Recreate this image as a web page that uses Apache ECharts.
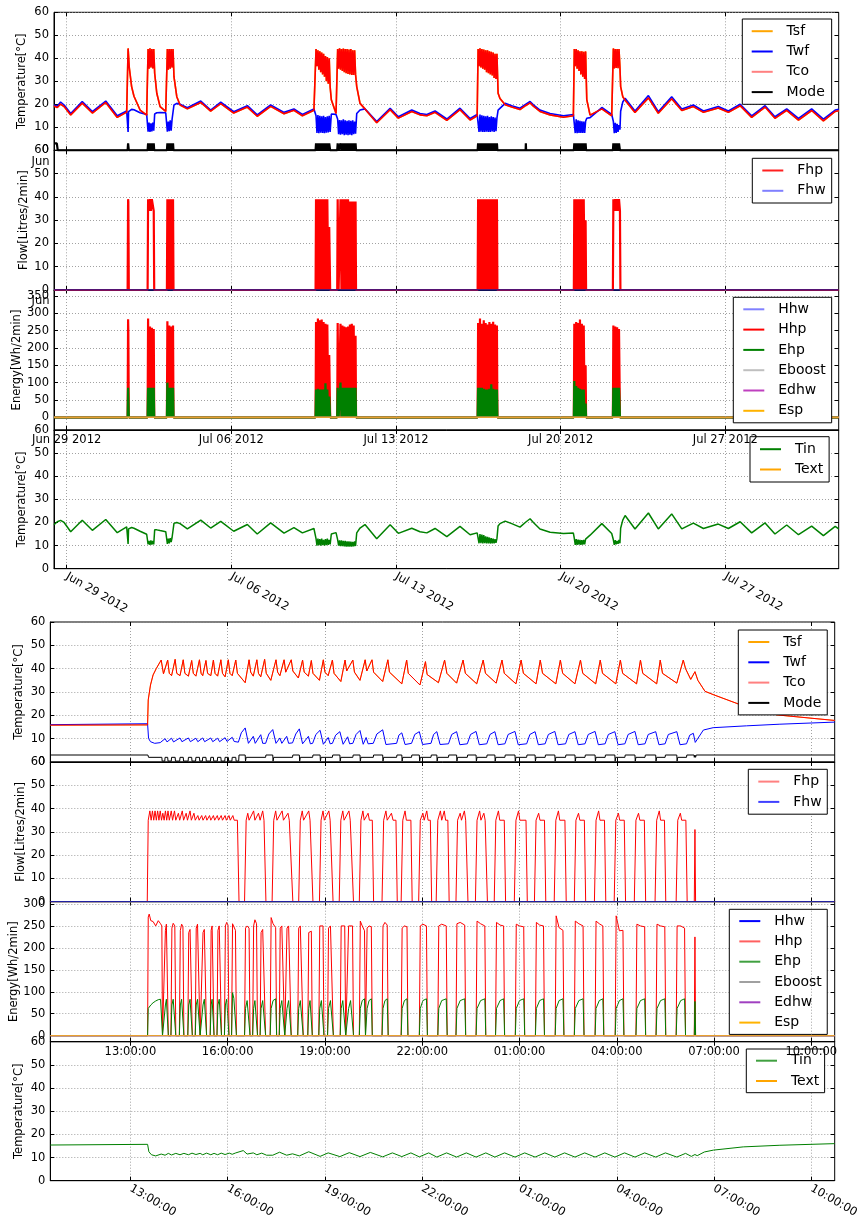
<!DOCTYPE html>
<html><head><meta charset="utf-8">
<script src="https://cdn.jsdelivr.net/npm/echarts/dist/echarts.min.js"></script>
<style>html,body{margin:0;padding:0;background:#fff}#c{width:860px;height:1223px}</style>
</head><body><div id="c"></div><script>
// ---------------- tick labels ----------------
const topTickDays = [0, 7, 14, 21, 28];
const topTickLabels = ['Jun 29 2012', 'Jul 06 2012', 'Jul 13 2012', 'Jul 20 2012', 'Jul 27 2012'];
const botTickHours = [13, 16, 19, 22, 25, 28, 31, 34];
const botTickLabels = ['13:00:00', '16:00:00', '19:00:00', '22:00:00', '01:00:00', '04:00:00', '07:00:00', '10:00:00'];
const tempTicks = [0, 10, 20, 30, 40, 50, 60];
const energyTicksTop = [0, 50, 100, 150, 200, 250, 300, 350];
const energyTicksBot = [0, 50, 100, 150, 200, 250, 300];

// ---------------- top figure (days since Jun 29 2012 00:00) ----------------
const topDays = [
-0.54,-0.40,-0.26,-0.11,0.17,0.66,1.09,1.66,2.15,2.55,
2.61,2.63,2.66,2.76,2.86,3.12,3.40,
3.46,3.50,3.54,3.58,3.62,3.66,3.70,
3.74,3.83,3.97,4.21,
4.28,4.32,4.36,4.40,4.44,4.48,4.52,
4.56,4.68,4.82,5.13,5.70,6.12,6.55,7.10,7.68,8.10,8.67,9.24,9.66,10.02,10.51,
10.60,10.64,10.68,10.72,10.76,10.80,10.84,10.88,10.92,10.96,11.00,11.04,11.08,11.12,11.16,11.20,
11.25,11.45,
11.52,11.56,11.60,11.64,11.68,11.72,11.76,11.80,11.84,11.88,11.92,11.96,12.00,12.04,12.08,12.12,12.16,12.20,12.24,12.28,
12.33,12.47,12.68,13.18,13.75,14.10,14.67,15.02,15.31,15.66,16.16,16.72,17.15,17.45,
17.49,17.53,17.57,17.61,17.65,17.69,17.73,17.77,17.81,17.85,17.89,17.93,17.97,18.01,18.05,18.09,18.13,18.17,18.21,18.25,18.29,
18.34,18.42,18.64,18.92,19.27,19.52,19.70,19.84,20.12,20.55,21.12,21.54,
21.58,21.62,21.66,21.70,21.74,21.78,21.82,21.86,21.90,21.94,21.98,22.02,22.06,
22.11,22.25,22.75,23.17,
23.24,23.28,23.32,23.36,23.40,23.44,23.48,23.52,
23.55,23.64,23.74,24.16,24.73,25.15,25.72,26.15,26.64,27.07,27.70,28.13,28.63,29.12,29.69,30.11,30.61,31.11,31.67,32.17,32.67,32.82
];
const topTwf = [
19.7,19.2,21.0,19.7,16.0,21.2,16.8,21.4,15.0,17.1,
8.0,16.8,17.3,17.8,17.6,16.3,15.6,
8.1,12.0,8.0,11.7,8.2,12.0,8.5,
15.8,16.3,16.4,16.3,
8.1,12.5,8.3,13.0,8.5,13.5,14.0,
19.7,20.4,20.0,18.5,21.4,17.5,20.9,16.8,19.4,15.4,19.7,16.5,18.0,15.6,18.0,
15.0,7.5,15.3,7.4,15.0,7.6,14.8,7.5,15.0,7.4,14.5,7.6,14.8,7.8,15.0,8.0,
15.8,15.6,
13.5,7.0,13.2,6.8,13.0,7.0,13.5,6.6,13.0,6.8,12.8,6.6,13.0,6.8,12.8,6.6,13.0,7.0,12.5,7.2,
16.0,17.5,18.0,12.5,18.3,14.6,17.5,16.0,15.6,17.1,13.6,18.3,13.8,15.6,
16.0,8.0,15.5,8.1,15.2,8.0,15.0,8.0,14.8,8.1,15.0,8.0,14.5,8.0,14.8,8.2,14.5,8.0,14.2,8.3,14.0,
17.5,18.3,20.4,19.4,18.3,20.1,21.2,19.8,17.5,16.0,15.0,15.6,
15.0,7.5,13.5,7.4,13.0,7.5,12.8,7.6,12.6,7.5,12.5,7.6,12.6,
13.9,14.2,18.6,15.6,
12.5,7.4,12.0,7.6,11.5,8.0,11.0,9.0,
17.0,21.0,22.6,17.1,23.8,16.8,23.3,18.0,19.7,17.1,19.0,17.1,20.0,15.0,19.4,14.6,18.0,13.9,18.0,13.6,17.5,17.8
];
const topTco = [
19.3,18.6,20.1,19.0,15.4,20.5,16.2,20.8,14.3,16.6,
44.3,44.0,36.0,27.7,23.5,17.5,15.3,
44.0,35.5,44.3,36.0,44.0,35.6,44.0,
33.5,24.8,19.0,16.9,
44.0,35.0,44.0,35.5,44.0,36.0,44.0,
32.0,23.3,19.7,18.0,20.8,17.0,20.3,16.2,18.8,14.8,19.1,15.9,17.4,15.0,17.4,
44.0,36.6,43.5,35.0,43.0,34.0,42.5,33.0,42.0,32.0,41.0,30.0,40.5,29.0,40.0,27.5,
22.0,16.0,
44.0,35.5,44.3,35.0,44.0,34.5,44.2,34.0,44.0,33.5,44.0,33.2,43.8,33.0,44.0,32.8,43.5,32.7,43.5,33.0,
27.7,20.4,18.0,12.0,17.7,14.0,16.9,15.4,15.0,16.5,13.0,17.7,13.2,15.0,
44.0,36.6,44.3,36.0,44.0,35.5,43.8,35.0,43.5,34.0,43.5,33.5,43.0,33.0,42.8,32.5,42.5,31.5,42.0,31.0,42.0,
24.8,22.5,19.8,18.8,17.7,19.5,20.6,19.2,16.9,15.4,14.4,15.0,
44.0,36.6,44.0,35.5,43.5,34.5,43.0,33.0,43.0,32.0,42.8,31.0,43.0,
22.0,15.3,18.0,15.0,
44.3,35.6,44.0,35.8,44.0,35.7,44.0,36.0,
27.7,23.3,21.8,16.4,22.8,16.1,22.4,17.3,19.0,16.5,18.4,16.5,19.4,14.3,18.8,13.9,17.4,13.1,17.3,12.8,16.9,17.2
];
const topTin = [
19.0,20.3,20.9,20.0,16.0,21.0,16.6,21.3,15.6,18.1,
10.7,17.2,17.7,17.8,17.5,16.2,14.9,
10.5,12.0,10.3,12.2,10.4,12.0,10.5,
16.8,16.8,16.5,16.0,
10.7,13.0,11.0,13.2,11.5,13.5,13.0,
19.6,20.0,19.5,17.2,21.0,17.6,20.5,16.2,19.1,15.0,19.8,15.4,17.8,15.5,17.4,
13.0,10.0,13.0,10.2,12.8,10.0,13.0,10.2,12.5,10.0,12.8,10.2,13.0,10.3,12.5,10.5,
15.0,15.6,
12.5,10.0,12.3,9.8,12.2,9.8,12.0,9.7,12.0,9.6,11.8,9.6,11.8,9.6,11.7,9.6,11.6,9.7,11.8,9.8,
15.5,17.6,19.1,13.0,19.0,15.3,17.5,16.0,15.5,17.4,13.9,18.3,14.7,15.5,
15.5,11.0,15.0,11.0,14.8,10.9,14.5,11.0,14.0,10.9,13.8,11.0,13.5,10.9,13.2,11.0,13.0,11.0,12.8,11.2,13.0,
18.5,19.5,20.6,19.5,18.0,20.2,21.6,20.0,17.2,15.8,15.2,15.4,
13.1,10.3,12.8,10.3,12.6,10.4,12.5,10.3,12.4,10.4,12.5,10.5,12.8,
13.5,14.5,19.5,15.2,
12.5,10.3,12.3,10.5,12.0,10.8,12.5,11.0,
17.5,21.0,23.0,17.2,24.1,17.2,23.7,17.2,19.7,17.4,19.3,17.4,20.3,15.5,19.8,15.0,18.9,14.7,18.4,14.3,18.3,17.2
];
// heating bursts (mode, flow, energy)
const pulseDays = [
-0.54,-0.42,-0.38,
2.59,2.61,2.62,2.64,
3.44, 3.46,3.50,3.54,3.58,3.62,3.66,3.70, 3.72,
4.26, 4.28,4.32,4.36,4.40,4.44,4.48,4.52, 4.54,
10.58, 10.60,10.64,10.68,10.72,10.76,10.80,10.84,10.88,10.92,10.96,11.00,11.04,11.08,11.12,11.16,11.20, 11.22,
11.50, 11.52,11.56,11.60,11.64,11.68,11.72,11.76,11.80,11.84,11.88,11.92,11.96,12.00,12.04,12.08,12.12,12.16,12.20,12.24,12.28, 12.30,
17.47, 17.49,17.53,17.57,17.61,17.65,17.69,17.73,17.77,17.81,17.85,17.89,17.93,17.97,18.01,18.05,18.09,18.13,18.17,18.21,18.25,18.29, 18.31,
19.51,19.52,19.53,
21.56, 21.58,21.62,21.66,21.70,21.74,21.78,21.82,21.86,21.90,21.94,21.98,22.02,22.06, 22.08,
23.22, 23.24,23.28,23.32,23.36,23.40,23.44,23.48,23.52, 23.54,
32.82
];
const topMode = [
3,3,0,
0,3,3,0,
0, 3,0,3,0,3,0,3, 0,
0, 3,0,3,0,3,0,3, 0,
0, 3,0,3,0,3,0,3,0,3,0,3,0,3,0,3,0, 0,
0, 3,0,0,3,0,3,0,3,0,3,0,3,0,3,0,3,0,3,0,3, 0,
0, 3,0,3,0,3,0,3,0,3,0,3,0,3,0,3,0,3,0,3,0,3, 0,
0,3,0,
0, 3,0,3,0,3,0,3,0,3,0,3,0,3, 0,
0, 3,0,3,0,3,0,3,0, 0,
0
];
const topFhp = [
0,0,0,
0,39,38,0,
0, 39,34,39,34,39,39,34, 0,
0, 39,0,39,0,39,0,39, 0,
0, 39,0,39,0,39,0,39,0,39,0,39,0,39,0,27,0, 0,
0, 39,0,0,39,0,39,0,39,0,39,0,39,0,38,0,38,0,38,0,38, 0,
0, 39,0,39,0,39,0,39,0,39,0,39,0,39,0,39,0,39,0,39,0,39, 0,
0,0,0,
0, 39,0,39,0,39,0,39,0,39,0,39,0,30, 0,
0, 39,34,39,34,39,34,39,34, 0,
0
];
const topHhp = [
0,0,0,
0,283,250,0,
0, 285,0,262,0,258,0,255, 0,
0, 277,0,265,0,262,0,265, 0,
0, 275,0,285,0,280,0,282,0,275,0,270,0,268,0,180,0, 0,
0, 272,0,0,270,0,265,0,262,0,260,0,262,0,268,0,270,0,265,0,235, 0,
0, 272,0,285,0,270,0,280,0,272,0,268,0,275,0,270,0,276,0,268,0,265, 0,
0,0,0,
0, 270,0,275,0,272,0,282,0,270,0,265,0,150, 0,
0, 265,0,262,0,260,0,255,0, 0,
0
];
const topEhp = [
0,0,0,
0,85,85,0,
0, 85,0,85,0,85,0,85, 0,
0, 100,0,85,0,85,0,85, 0,
0, 80,0,82,0,80,0,80,0,80,0,98,0,80,0,60,0, 0,
0, 85,0,0,100,0,85,0,85,0,85,0,85,0,85,0,85,0,85,0,85, 0,
0, 85,0,85,0,85,0,82,0,80,0,80,0,82,0,95,0,82,0,80,0,80, 0,
0,0,0,
0, 105,0,90,0,85,0,82,0,80,0,80,0,40, 0,
0, 85,0,85,0,85,0,85,0, 0,
0
];
const topZero = [[-0.54, 0], [32.82, 0]];

// ---------------- bottom figure (hours from 00:00 of first day) ----------------
const botPulseH = [
10.53,
13.53,13.55,13.58,13.63,13.70,13.78,13.86,13.93,13.97,13.99,
14.05,14.08,14.11,14.14,14.17,
14.25,14.28,14.32,14.37,14.40,
14.51,14.54,14.58,14.62,14.65,
14.77,14.80,14.84,14.88,14.91,
15.00,15.03,15.07,15.12,15.15,
15.21,15.24,15.28,15.32,15.35,
15.46,15.49,15.52,15.55,15.58,
15.67,15.70,15.74,15.78,15.81,
15.90,15.93,15.97,16.01,16.04,
16.12,16.15,16.19,16.24,16.27,
16.52,16.55,16.60,16.66,16.69,
16.77,16.80,16.84,16.89,16.92,
17.00,17.03,17.08,17.14,17.17,
17.31,17.34,17.40,17.48,17.51,
17.59,17.62,17.67,17.73,17.76,
17.80,17.83,17.88,17.93,17.96,
18.16,18.19,18.24,18.30,18.33,
18.47,18.50,18.54,18.58,18.61,
18.81,18.84,18.89,18.94,18.97,
19.08,19.11,19.17,19.23,19.26,
19.47,19.50,19.55,19.61,19.64,
19.70,19.73,19.79,19.85,19.88,
20.06,20.09,20.15,20.22,20.25,
20.27,20.30,20.36,20.43,20.46,
20.76,20.79,20.85,20.92,20.95,
21.35,21.38,21.45,21.53,21.56,
21.91,21.94,22.02,22.13,22.16,
22.48,22.51,22.60,22.74,22.77,
23.04,23.07,23.17,23.31,23.34,
23.66,23.69,23.80,23.93,23.96,
24.26,24.29,24.40,24.51,24.54,
24.87,24.90,25.00,25.13,25.16,
25.49,25.52,25.62,25.74,25.77,
26.10,26.13,26.22,26.34,26.37,
26.69,26.72,26.83,26.96,26.99,
27.33,27.36,27.46,27.57,27.60,
27.95,27.98,28.08,28.19,28.22,
28.59,28.62,28.73,28.86,28.89,
29.21,29.24,29.35,29.48,29.51,
29.83,29.86,29.97,30.09,30.12,
30.39,30.41,30.43,
34.72
];
const botHhp = [
0,
0,270,277,262,260,250,262,255,250,0,
0,240,254,250,0,
0,245,256,250,0,
0,240,254,248,0,
0,235,242,240,0,
0,245,254,250,0,
0,235,242,240,0,
0,240,250,248,0,
0,240,250,248,0,
0,250,258,252,0,
0,255,254,240,0,
0,245,250,245,0,
0,250,264,255,0,
0,235,242,240,0,
0,269,255,246,0,
0,245,250,250,0,
0,245,250,250,0,
0,245,250,250,0,
0,235,239,238,0,
0,250,254,250,0,
0,245,250,248,0,
0,250,254,250,0,
0,250,254,250,0,
0,261,250,239,0,
0,245,250,248,0,
0,250,258,252,0,
0,245,250,248,0,
0,250,254,250,0,
0,250,254,250,0,
0,255,258,252,0,
0,261,255,250,0,
0,258,252,250,0,
0,254,250,248,0,
0,258,252,250,0,
0,273,246,240,0,
0,261,255,250,0,
0,261,255,250,0,
0,273,239,240,0,
0,254,250,248,0,
0,254,250,248,0,
0,250,250,245,0,
0,225,0,
0
];
const botEhp = [
0,
0,62,66,70,75,79,82,83,84,0,
0,70,83,84,0,
0,70,83,84,0,
0,70,83,84,0,
0,70,83,84,0,
0,70,83,84,0,
0,70,83,84,0,
0,70,83,84,0,
0,70,83,84,0,
0,70,83,84,0,
0,98,85,84,0,
0,62,80,84,0,
0,62,80,84,0,
0,62,80,84,0,
0,62,80,84,0,
0,62,80,84,0,
0,62,80,84,0,
0,62,80,84,0,
0,62,80,84,0,
0,62,80,84,0,
0,62,80,84,0,
0,62,80,84,0,
0,62,80,84,0,
0,62,80,84,0,
0,62,80,84,0,
0,62,80,84,0,
0,62,80,84,0,
0,62,80,84,0,
0,62,80,84,0,
0,62,80,84,0,
0,62,80,84,0,
0,62,80,84,0,
0,62,80,84,0,
0,62,80,84,0,
0,62,80,84,0,
0,62,80,84,0,
0,62,80,84,0,
0,62,80,84,0,
0,62,80,84,0,
0,62,80,84,0,
0,62,80,84,0,
0,78,0,
0
];
const botFhp = [
[10.53,0],[13.52,0],[13.55,35],[13.60,39],[13.64,35],[13.68,39],[13.72,35],[13.76,39],[13.80,35],[13.84,39],[13.88,35],[13.92,39],[13.96,35],[14.00,38],[14.04,35],[14.08,39],[14.12,35],[14.16,39],[14.20,35],[14.26,39],[14.30,35],[14.36,39],[14.40,35],[14.48,38],[14.52,35],[14.60,39],[14.64,35],[14.72,38],[14.76,35],[14.84,39],[14.88,35],[14.96,38],[15.00,35],[15.08,37],[15.12,35],[15.20,37],[15.24,35],[15.32,37],[15.36,35],[15.44,37],[15.48,35],[15.56,37],[15.60,35],[15.68,37],[15.72,35],[15.80,37],[15.84,35],[15.92,37],[15.96,35],[16.04,37],[16.08,35],[16.16,37],[16.20,35],[16.30,35],[16.35,0],
[16.52,0],[16.57,35],[16.62,38],[16.66,35],[16.80,39],[16.84,35],[16.95,38],[17.00,35],[17.08,39],[17.12,35],[17.18,0],
[17.37,0],[17.42,35],[17.48,39],[17.52,35],[17.68,39],[17.72,35],[17.86,38],[17.90,35],[17.96,35],[18.01,0],
[18.19,0],[18.24,35],[18.30,39],[18.34,35],[18.50,39],[18.54,35],[18.59,35],[18.63,0],
[18.83,0],[18.88,35],[18.94,39],[18.98,35],[19.12,39],[19.16,35],[19.21,35],[19.25,0],
[19.44,0],[19.49,35],[19.55,39],[19.59,35],[19.74,39],[19.78,35],[19.84,35],[19.88,0],
[20.06,0],[20.11,35],[20.17,39],[20.21,35],[20.33,38],[20.37,35],[20.46,35],[20.50,0],
[20.76,0],[20.81,35],[20.88,39],[20.92,35],[21.05,38],[21.10,35],[21.19,35],[21.23,0],
[21.35,0],[21.40,35],[21.47,39],[21.51,35],[21.65,35],[21.69,0],
[21.89,0],[21.94,35],[22.02,38],[22.06,35],[22.14,39],[22.18,35],[22.25,35],[22.29,0],
[22.43,0],[22.48,35],[22.56,39],[22.60,35],[22.68,39],[22.72,35],[22.79,35],[22.83,0],
[23.04,0],[23.09,35],[23.17,38],[23.21,35],[23.30,39],[23.34,35],[23.37,35],[23.41,0],
[23.64,0],[23.69,35],[23.77,39],[23.81,35],[23.90,38],[23.94,35],[23.97,35],[24.01,0],
[24.22,0],[24.27,35],[24.35,39],[24.39,35],[24.53,35],[24.57,0],
[24.84,0],[24.89,35],[24.97,39],[25.01,35],[25.20,35],[25.24,0],
[25.46,0],[25.51,35],[25.59,38],[25.63,35],[25.77,35],[25.81,0],
[26.07,0],[26.12,35],[26.20,39],[26.24,35],[26.40,35],[26.44,0],
[26.69,0],[26.74,35],[26.82,38],[26.86,35],[27.00,35],[27.04,0],
[27.31,0],[27.36,35],[27.44,39],[27.48,35],[27.62,35],[27.66,0],
[27.92,0],[27.97,35],[28.05,38],[28.09,35],[28.23,35],[28.27,0],
[28.54,0],[28.59,35],[28.67,38],[28.71,35],[28.85,35],[28.89,0],
[29.18,0],[29.23,35],[29.31,39],[29.35,35],[29.47,35],[29.51,0],
[29.83,0],[29.88,35],[29.96,38],[30.00,35],[30.13,35],[30.17,0],
[30.39,0],[30.41,31],[30.43,0],[34.72,0]
];
const botMode = [
[10.53,3],[13.54,3],[13.56,2],
[13.97,2],[13.98,0.4],[14.06,0.4],[14.07,2],
[14.15,2],[14.16,0.4],[14.26,0.4],[14.27,2],
[14.38,2],[14.39,0.4],[14.52,0.4],[14.53,2],
[14.63,2],[14.64,0.4],[14.78,0.4],[14.79,2],
[14.89,2],[14.90,0.4],[15.01,0.4],[15.02,2],
[15.13,2],[15.14,0.4],[15.22,0.4],[15.23,2],
[15.33,2],[15.34,0.4],[15.47,0.4],[15.48,2],
[15.56,2],[15.57,0.4],[15.68,0.4],[15.69,2],
[15.79,2],[15.80,0.4],[15.91,0.4],[15.92,2],
[16.02,2],[16.03,0.4],[16.13,0.4],[16.14,2],
[16.25,2],[16.26,0.4],[16.34,0.4],[16.35,3],
[16.54,3],[16.55,0.4],[16.57,2],[17.17,2],[17.18,3],
[17.39,3],[17.40,0.4],[17.42,2],[18.00,2],[18.01,3],
[18.21,3],[18.22,0.4],[18.24,2],[18.62,2],[18.63,3],
[18.85,3],[18.86,0.4],[18.88,2],[19.23,2],[19.24,3],
[19.46,3],[19.47,0.4],[19.49,2],[19.86,2],[19.87,3],
[20.08,3],[20.09,0.4],[20.11,2],[20.49,2],[20.50,3],
[20.78,3],[20.79,0.4],[20.81,2],[21.21,2],[21.22,3],
[21.37,3],[21.38,0.4],[21.40,2],[21.67,2],[21.68,3],
[21.91,3],[21.92,0.4],[21.94,2],[22.27,2],[22.28,3],
[22.45,3],[22.46,0.4],[22.48,2],[22.81,2],[22.82,3],
[23.06,3],[23.07,0.4],[23.09,2],[23.39,2],[23.40,3],
[23.66,3],[23.67,0.4],[23.69,2],[23.99,2],[24.00,3],
[24.24,3],[24.25,0.4],[24.27,2],[24.55,2],[24.56,3],
[24.86,3],[24.87,0.4],[24.89,2],[25.22,2],[25.23,3],
[25.48,3],[25.49,0.4],[25.51,2],[25.79,2],[25.80,3],
[26.09,3],[26.10,0.4],[26.12,2],[26.42,2],[26.43,3],
[26.71,3],[26.72,0.4],[26.74,2],[27.02,2],[27.03,3],
[27.33,3],[27.34,0.4],[27.36,2],[27.64,2],[27.65,3],
[27.94,3],[27.95,0.4],[27.97,2],[28.25,2],[28.26,3],
[28.56,3],[28.57,0.4],[28.59,2],[28.87,2],[28.88,3],
[29.20,3],[29.21,0.4],[29.23,2],[29.49,2],[29.50,3],
[29.85,3],[29.86,0.4],[29.88,2],[30.15,2],[30.16,3],
[30.38,3],[30.39,2],[30.41,3],[30.43,2],[30.45,3],[34.72,3]
];
const botTwf = [
[10.53,16.0],[13.53,16.4],[13.56,10.1],[13.62,8.7],[13.75,8.0],[13.92,8.3],
[14.07,10.0],[14.13,8.6],[14.27,10.2],[14.33,8.6],[14.53,10.3],[14.59,8.7],[14.79,10.3],[14.85,8.7],[15.02,10.2],[15.08,8.7],[15.23,10.3],[15.29,8.7],[15.48,10.3],[15.54,8.7],[15.69,10.2],[15.75,8.7],[15.92,10.4],[15.98,8.8],[16.14,10.6],[16.20,8.8],[16.33,8.5],
[16.42,12.5],[16.54,14.6],[16.64,8.0],[16.79,11.0],[16.85,8.0],[17.02,11.7],[17.08,8.0],[17.17,8.0],
[17.27,12.0],[17.39,13.9],[17.49,8.0],[17.61,10.3],[17.67,8.0],[17.82,11.0],[17.88,8.0],[18.00,8.2],
[18.10,12.0],[18.21,14.2],[18.31,7.8],[18.49,11.0],[18.55,7.8],[18.62,8.0],
[18.72,11.8],[18.85,13.6],[18.95,7.6],[19.10,10.5],[19.16,7.8],[19.23,8.0],
[19.33,11.5],[19.46,13.0],[19.56,7.6],[19.70,10.8],[19.76,7.8],[19.86,8.0],
[19.96,11.8],[20.08,13.5],[20.18,7.6],[20.27,10.5],[20.33,7.8],[20.49,8.0],
[20.60,12.0],[20.78,13.8],[20.88,7.5],[21.21,8.0],
[21.28,11.5],[21.37,12.5],[21.47,7.5],[21.67,8.0],
[21.77,11.8],[21.91,13.0],[22.01,7.5],[22.27,8.0],
[22.35,11.8],[22.45,13.0],[22.55,7.5],[22.81,7.8],
[22.91,11.8],[23.06,13.0],[23.16,7.4],[23.39,7.8],
[23.49,11.8],[23.66,13.1],[23.76,7.4],[23.99,7.8],
[24.09,11.8],[24.24,13.0],[24.34,7.4],[24.55,7.8],
[24.65,11.8],[24.86,13.1],[24.96,7.4],[25.22,7.8],
[25.32,11.8],[25.48,13.0],[25.58,7.4],[25.79,7.8],
[25.89,11.8],[26.09,13.1],[26.19,7.4],[26.42,7.8],
[26.52,11.8],[26.71,13.0],[26.81,7.4],[27.02,7.8],
[27.12,11.8],[27.33,13.1],[27.43,7.4],[27.64,7.8],
[27.74,11.8],[27.94,13.0],[28.04,7.4],[28.25,7.8],
[28.35,11.8],[28.56,13.1],[28.66,7.4],[28.87,7.8],
[28.97,11.8],[29.20,13.0],[29.30,7.4],[29.49,7.8],
[29.59,11.8],[29.85,13.0],[29.95,7.4],[30.15,7.8],
[30.25,11.5],[30.36,12.3],[30.42,8.4],[30.46,8.6],[30.67,13.7],[30.97,14.7],[32.00,15.5],[33.03,16.2],[34.72,17.1]
];
const botTco = [
[10.53,15.8],[13.53,15.9],[13.55,26.6],[13.62,33.0],[13.70,37.3],[13.80,40.1],[13.95,43.7],[14.02,37.8],
[14.07,37.2],[14.15,43.7],[14.20,38.0],
[14.27,37.0],[14.38,44.0],[14.43,38.0],
[14.53,37.0],[14.63,43.8],[14.68,38.0],
[14.79,36.8],[14.89,43.5],[14.94,38.0],
[15.02,36.8],[15.13,43.8],[15.18,38.0],
[15.23,37.0],[15.33,43.5],[15.38,38.0],
[15.48,37.0],[15.56,43.7],[15.61,38.0],
[15.69,36.8],[15.79,43.8],[15.84,38.0],
[15.92,36.5],[16.02,43.8],[16.07,38.0],
[16.14,37.0],[16.25,43.7],[16.30,38.0],
[16.54,34.0],[16.66,43.8],[16.71,38.5],
[16.79,36.8],[16.90,43.8],[16.95,38.0],
[17.02,36.5],[17.14,44.0],[17.19,38.0],
[17.33,35.0],[17.49,43.8],[17.54,38.5],
[17.61,37.0],[17.74,43.8],[17.79,38.5],
[17.82,38.0],[17.96,43.8],[18.01,39.0],
[18.18,36.0],[18.31,43.7],[18.36,38.5],
[18.49,36.8],[18.58,43.5],[18.63,38.0],
[18.83,35.0],[18.95,43.8],[19.00,38.5],
[19.10,37.0],[19.23,43.7],[19.28,38.0],
[19.49,34.5],[19.62,43.7],[19.67,39.0],
[19.72,38.5],[19.86,43.7],[19.91,38.5],
[20.08,35.0],[20.24,43.8],[20.29,39.0],
[20.30,38.8],[20.45,43.8],[20.50,38.5],
[20.78,34.5],[20.94,43.8],[20.99,38.5],
[21.37,33.5],[21.52,43.7],[21.57,38.0],
[21.93,33.0],[22.10,43.0],[22.15,37.5],
[22.50,34.0],[22.69,43.7],[22.76,38.0],
[23.06,33.8],[23.26,43.7],[23.33,38.0],
[23.68,33.5],[23.88,43.7],[23.95,38.0],
[24.28,33.8],[24.46,43.7],[24.53,38.0],
[24.89,33.5],[25.05,43.7],[25.12,38.0],
[25.51,33.5],[25.64,43.7],[25.71,38.0],
[26.12,33.5],[26.26,43.7],[26.33,38.0],
[26.71,33.5],[26.88,43.7],[26.95,38.0],
[27.35,33.5],[27.49,43.7],[27.56,38.0],
[27.97,33.5],[28.11,43.7],[28.18,38.0],
[28.61,33.5],[28.73,43.7],[28.80,38.0],
[29.23,33.5],[29.34,43.7],[29.41,38.0],
[29.85,33.8],[30.05,43.7],[30.12,40.0],
[30.28,35.4],[30.41,38.7],[30.50,35.0],[30.72,30.3],[30.97,28.9],[31.80,24.6],[32.93,20.2],[34.72,17.8]
];
const botTin = [
[10.53,15.4],[13.53,15.7],[13.57,12.5],[13.65,11.2],[13.78,10.7],[13.95,11.5],[14.07,11.0],[14.17,11.8],[14.27,11.1],[14.40,11.8],[14.53,11.2],[14.65,11.8],[14.79,11.2],[14.90,11.9],[15.02,11.3],[15.15,11.8],[15.23,11.2],[15.35,11.9],[15.48,11.2],[15.58,11.8],[15.69,11.2],[15.80,11.9],[15.92,11.3],[16.05,11.9],[16.14,11.4],[16.25,12.0],
[16.48,13.0],[16.60,11.5],[16.79,12.0],[16.90,11.2],[17.05,11.9],[17.20,11.0],[17.39,11.0],[17.60,12.3],[17.82,11.0],[18.00,11.6],[18.21,10.7],[18.50,12.5],[18.85,10.5],[19.10,12.0],[19.46,10.4],[19.75,12.1],[20.08,10.4],[20.40,12.2],[20.78,10.3],[21.08,12.0],[21.37,10.4],[21.65,12.0],[21.91,10.3],[22.20,12.0],
[22.45,10.2],[22.75,12.0],[23.06,10.2],[23.36,12.0],[23.66,10.2],[23.96,12.0],[24.24,10.2],[24.54,12.0],[24.86,10.2],[25.16,12.0],[25.48,10.2],[25.78,12.0],[26.09,10.2],[26.39,12.0],[26.71,10.2],[27.01,12.0],[27.33,10.2],[27.63,12.0],[27.94,10.2],[28.24,12.0],[28.56,10.2],[28.86,12.0],[29.20,10.2],[29.50,12.0],[29.85,10.2],[30.12,11.8],
[30.30,10.5],[30.41,11.3],[30.48,10.8],[30.70,12.4],[30.98,13.2],[31.90,14.6],[33.03,15.3],[34.72,16.0]
];
const botZero = [[10.53, 0], [34.72, 0]];

// ---------------- layout ----------------
const FONT = 'DejaVu Sans';
const topRange = [-0.54, 32.82];
const botRange = [10.53, 34.72];
const GRIDS = [
  {left: 54, top: 12.3, width: 784.7, height: 138},
  {left: 54, top: 150.3, width: 784.7, height: 139.7},
  {left: 54, top: 290, width: 784.7, height: 140},
  {left: 54, top: 430, width: 784.7, height: 138.7},
  {left: 50.3, top: 622, width: 784.4, height: 140},
  {left: 50.3, top: 762, width: 784.4, height: 139.7},
  {left: 50.3, top: 901.7, width: 784.4, height: 140},
  {left: 50.3, top: 1041.7, width: 784.4, height: 139}
];
const zip = (xs, ys) => xs.map((x, i) => [x, ys[i]]);
const fmt = (ticks, labels) => v => {
  const i = ticks.findIndex(t => Math.abs(t - v) < 1e-6);
  return i >= 0 ? labels[i] : '';
};
const gridLine = {show: true, lineStyle: {color: '#8a8a8a', type: [1, 2], width: 0.8}};

function xAx(gi, range, ticks, labels, mode, z) {
  return {
    type: 'value', gridIndex: gi, min: range[0], max: range[1], position: 'bottom', z: z || 0,
    axisLine: {show: true, onZero: false, lineStyle: {color: '#000', width: 1}},
    axisTick: {show: true, inside: true, length: 4, customValues: ticks, lineStyle: {color: '#000'}},
    axisLabel: {show: mode !== 'none', customValues: ticks, formatter: fmt(ticks, labels),
      rotate: mode === 'rot' ? -30 : 0, margin: mode === 'rot' ? 7 : 4,
      color: '#000', fontSize: 11.5, fontFamily: FONT, hideOverlap: false},
    splitLine: gridLine
  };
}
function xTop(gi, range, ticks) {
  return {
    type: 'value', gridIndex: gi, min: range[0], max: range[1], position: 'top',
    axisLine: {show: false, onZero: false},
    axisTick: {show: true, inside: true, length: 4, customValues: ticks, lineStyle: {color: '#000'}},
    axisLabel: {show: false}, splitLine: {show: false}
  };
}
function yAx(gi, min, max, ticks, name, gap) {
  return {
    type: 'value', gridIndex: gi, min: min, max: max,
    name: name, nameLocation: 'middle', nameGap: gap, nameRotate: 90, nameMoveOverlap: false,
    nameTextStyle: {color: '#000', fontSize: 11.5, fontFamily: FONT},
    axisLine: {show: true, onZero: false, lineStyle: {color: '#000', width: 1}},
    axisTick: {show: true, inside: true, length: 4, customValues: ticks, lineStyle: {color: '#000'}},
    axisLabel: {customValues: ticks, color: '#000', fontSize: 11.5, fontFamily: FONT, margin: 5, hideOverlap: false},
    splitLine: gridLine
  };
}
function yRight(gi, min, max, ticks) {
  return {
    type: 'value', gridIndex: gi, min: min, max: max, position: 'right',
    axisLine: {show: false, onZero: false},
    axisTick: {show: true, inside: true, length: 4, customValues: ticks, lineStyle: {color: '#000'}},
    axisLabel: {show: false}, splitLine: {show: false}
  };
}
function ln(name, gi, data, color, width) {
  return {
    type: 'line', name: name, xAxisIndex: gi, yAxisIndex: gi, data: data,
    symbol: 'none', showSymbol: false, silent: true, animation: false, clip: true,
    lineStyle: {color: color, width: width}, itemStyle: {color: color},
    emphasis: {disabled: true}
  };
}
function leg(left, top, items, pad) {
  return {
    left: left, top: top, orient: 'vertical', itemWidth: 21, itemHeight: 2, itemGap: 6.3,
    padding: pad, borderColor: '#000', borderWidth: 1, backgroundColor: '#fff', borderRadius: 0,
    selectedMode: false, z: 20,
    formatter: n => '  ' + n,
    textStyle: {color: '#000', fontSize: 14, fontFamily: FONT, lineHeight: 14},
    data: items.map(it => ({name: it[0], icon: 'rect', itemStyle: {color: it[1], borderWidth: 0}}))
  };
}

const yRanges = [[0, 60, tempTicks], [0, 60, tempTicks], [-36.6, 367.3, energyTicksTop], [0, 60, tempTicks],
                 [0, 60, tempTicks], [0, 60, tempTicks], [-13.7, 305.2, energyTicksBot], [0, 60, tempTicks]];

const option = {
  animation: false,
  backgroundColor: '#fff',
  textStyle: {fontFamily: FONT},
  grid: GRIDS.map(g => Object.assign({show: true, borderColor: '#000', borderWidth: 1,
    backgroundColor: 'transparent', containLabel: false, outerBoundsMode: 'none'}, g)),
  graphic: [
    // clipped remnants of the hidden date labels under the upper two top panels
    {type: 'text', left: 31.5, top: 156, silent: true, z: 5,
     style: {text: 'Jun', fill: '#000', font: '11.5px "DejaVu Sans"'}},
    {type: 'text', left: 31.5, top: 295.5, silent: true, z: 5,
     style: {text: 'Jun', fill: '#000', font: '11.5px "DejaVu Sans"'}}
  ],
  xAxis: [
    xAx(0, topRange, topTickDays, topTickLabels, 'none'),
    xAx(1, topRange, topTickDays, topTickLabels, 'none'),
    xAx(2, topRange, topTickDays, topTickLabels, 'flat', 30),
    xAx(3, topRange, topTickDays, topTickLabels, 'rot'),
    xAx(4, botRange, botTickHours, botTickLabels, 'none'),
    xAx(5, botRange, botTickHours, botTickLabels, 'none'),
    xAx(6, botRange, botTickHours, botTickLabels, 'flat', 30),
    xAx(7, botRange, botTickHours, botTickLabels, 'rot'),
    xTop(0, topRange, topTickDays), xTop(1, topRange, topTickDays), xTop(2, topRange, topTickDays), xTop(3, topRange, topTickDays),
    xTop(4, botRange, botTickHours), xTop(5, botRange, botTickHours), xTop(6, botRange, botTickHours), xTop(7, botRange, botTickHours)
  ],
  yAxis: [
    yAx(0, 0, 60, tempTicks, 'Temperature[°C]', 25.5),
    yAx(1, 0, 60, tempTicks, 'Flow[Litres/2min]', 23.8),
    yAx(2, -36.6, 367.3, energyTicksTop, 'Energy[Wh/2min]', 30.5),
    yAx(3, 0, 60, tempTicks, 'Temperature[°C]', 25.5),
    yAx(4, 0, 60, tempTicks, 'Temperature[°C]', 24.8),
    yAx(5, 0, 60, tempTicks, 'Flow[Litres/2min]', 22.8),
    yAx(6, -13.7, 305.2, energyTicksBot, 'Energy[Wh/2min]', 29.8),
    yAx(7, 0, 60, tempTicks, 'Temperature[°C]', 24.8)
  ].concat(yRanges.map((r, i) => yRight(i, r[0], r[1], r[2]))),
  legend: [
    leg(742.3, 19, [['Tsf','#ffa500'],['Twf','#0000ff'],['Tco','#ff8080'],['Mode','#000000']], [5.2, 6.9, 5.2, 9.4]),
    leg(752.3, 158.3, [['Fhp','#ff2020'],['Fhw','#8080ff']], [5.2, 6.1, 5.2, 10]),
    leg(733.3, 297.3, [['Hhw','#8080ff'],['Hhp','#ff0000'],['Ehp','#008000'],['Eboost','#bfbfbf'],['Edhw','#bf40bf'],['Esp','#ffb300']], [5, 5.8, 5, 10]),
    leg(750, 436.7, [['Tin','#008000'],['Text','#ffa500']], [5.5, 5.9, 5.5, 10]),
    leg(738.3, 630, [['Tsf','#ffa500'],['Twf','#0000ff'],['Tco','#ff8080'],['Mode','#000000']], [5, 5.9, 5, 10]),
    leg(748.3, 769.3, [['Fhp','#ff8080'],['Fhw','#4040ff']], [5.3, 5.7, 5.3, 10]),
    leg(729.3, 909.3, [['Hhw','#0000ff'],['Hhp','#ff6060'],['Ehp','#40a040'],['Eboost','#a0a0a0'],['Edhw','#a040c0'],['Esp','#ffb300']], [4.8, 5.4, 4.8, 10]),
    leg(746.3, 1049, [['Tin','#40a040'],['Text','#ffa500']], [4.7, 5.4, 4.7, 9.7])
  ],
  series: [
    ln('Tsf', 0, zip(topDays, topTco), '#ffa500', 1.6),
    ln('Twf', 0, zip(topDays, topTwf), '#0000ff', 1.6),
    ln('Tco', 0, zip(topDays, topTco), '#ff0000', 1.6),
    ln('Mode', 0, zip(pulseDays, topMode), '#000000', 2.2),
    ln('Fhp', 1, zip(pulseDays, topFhp), '#ff0000', 2.2),
    ln('Fhw', 1, topZero, '#1a1a9a', 1.4),
    ln('Hhw', 2, topZero, '#0000ff', 1),
    ln('Hhp', 2, zip(pulseDays, topHhp), '#ff0000', 2.2),
    ln('Ehp', 2, zip(pulseDays, topEhp), '#008000', 2.2),
    ln('Eboost', 2, topZero, '#bfbfbf', 1),
    ln('Edhw', 2, topZero, '#bf40bf', 1),
    ln('Esp', 2, topZero, '#e8a030', 1.4),
    ln('Tin', 3, zip(topDays, topTin), '#008000', 1.5),
    ln('Text', 3, [], '#ffa500', 1),

    ln('Tsf', 4, botTco, '#ffa500', 1),
    ln('Twf', 4, botTwf, '#0000ff', 1),
    ln('Tco', 4, botTco, '#ff0000', 1),
    ln('Mode', 4, botMode, '#000000', 1),
    ln('Fhp', 5, botFhp, '#ff0000', 1),
    ln('Fhw', 5, botZero, '#2020a0', 1.2),
    ln('Hhw', 6, botZero, '#0000ff', 1),
    ln('Hhp', 6, zip(botPulseH, botHhp), '#ff0000', 1),
    ln('Ehp', 6, zip(botPulseH, botEhp), '#008000', 1),
    ln('Eboost', 6, botZero, '#a0a0a0', 1),
    ln('Edhw', 6, botZero, '#a040c0', 1),
    ln('Esp', 6, botZero, '#e8a030', 1.2),
    ln('Tin', 7, botTin, '#008000', 1),
    ln('Text', 7, [], '#ffa500', 1)
  ]
};
const chart = echarts.init(document.getElementById('c'), null, {renderer: 'canvas', width: 860, height: 1223});
chart.setOption(option);
</script></body></html>
